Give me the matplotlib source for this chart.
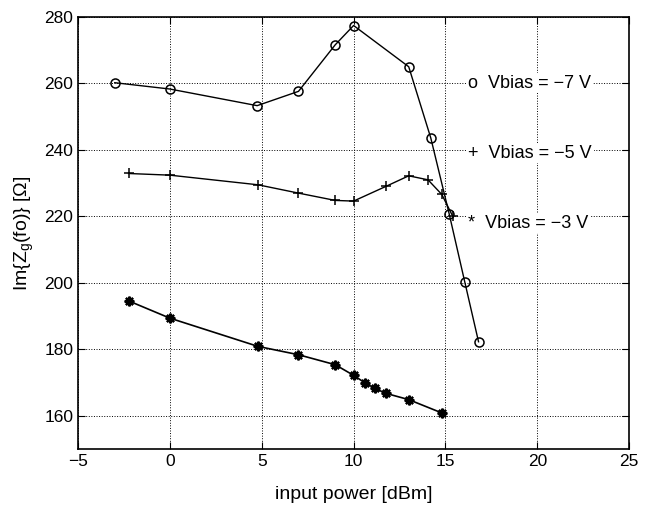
import matplotlib
matplotlib.use("Agg")
import matplotlib.pyplot as plt

plt.rcParams['font.family'] = ['Liberation Sans', 'DejaVu Sans']
plt.rcParams['mathtext.fontset'] = 'custom'
plt.rcParams['mathtext.rm'] = 'Liberation Sans'
plt.rcParams['mathtext.it'] = 'Liberation Sans'

# Vbias = -7 V (circles)
p7 = [-3, 0, 4.75, 7, 9, 10, 13, 14.2, 15.2, 16.05, 16.8]
z7 = [260.2, 258.3, 253.3, 257.6, 271.6, 277.4, 265.0, 243.6, 220.8, 200.3, 182.3]
# Vbias = -5 V (plus)
p5 = [-2.25, 0, 4.8, 7, 9, 10, 11.75, 13, 14.05, 14.8, 15.4]
z5 = [232.9, 232.4, 229.5, 227.0, 224.8, 224.6, 229.0, 232.2, 231.0, 226.6, 220.0]
# Vbias = -3 V (asterisk)
p3 = [-2.25, 0, 4.8, 7, 9, 10, 10.6, 11.15, 11.75, 13, 14.8]
z3 = [194.6, 189.4, 180.9, 178.4, 175.4, 172.2, 170.0, 168.3, 166.8, 164.9, 160.9]

labels = ["o  Vbias = \u22127 V", "+  Vbias = \u22125 V", "*  Vbias = \u22123 V"]
label_y = [260, 239, 218]

fig = plt.figure(figsize=(6.5, 5.11), dpi=100)
ax = fig.add_axes([0.12, 0.121, 0.848, 0.846])

ax.plot(p7, z7, '-', color='black', lw=1, marker='o', ms=6.5, mfc='none', mew=1.1)
ax.plot(p5, z5, '-', color='black', lw=1, marker='+', ms=7, mew=1.1)
ax.plot(p3, z3, '-', color='black', lw=1.2, marker=(8, 2, 0), ms=7, mew=1.6)

for lab, yv in zip(labels, label_y):
    ax.text(16.25, yv, lab, fontsize=13, va='center', ha='left',
            bbox=dict(facecolor='white', edgecolor='none', pad=1))

ax.set_xlim(-5, 25)
ax.set_ylim(150, 280)
ax.set_xticks(range(-5, 26, 5))
ax.set_yticks(range(160, 281, 20))
ax.grid(True, linestyle=':', color='black', lw=0.7)
ax.tick_params(direction='in', top=True, right=True, labelsize=12.5, length=5)
for s in ax.spines.values():
    s.set_linewidth(1.2)

ax.set_xlabel("input power [dBm]", fontsize=14, labelpad=12)
ax.set_ylabel("Im{Z$_\\mathrm{g}$(fo)} [\u03a9]", fontsize=14, labelpad=6)

fig.savefig("out.png", dpi=100)
